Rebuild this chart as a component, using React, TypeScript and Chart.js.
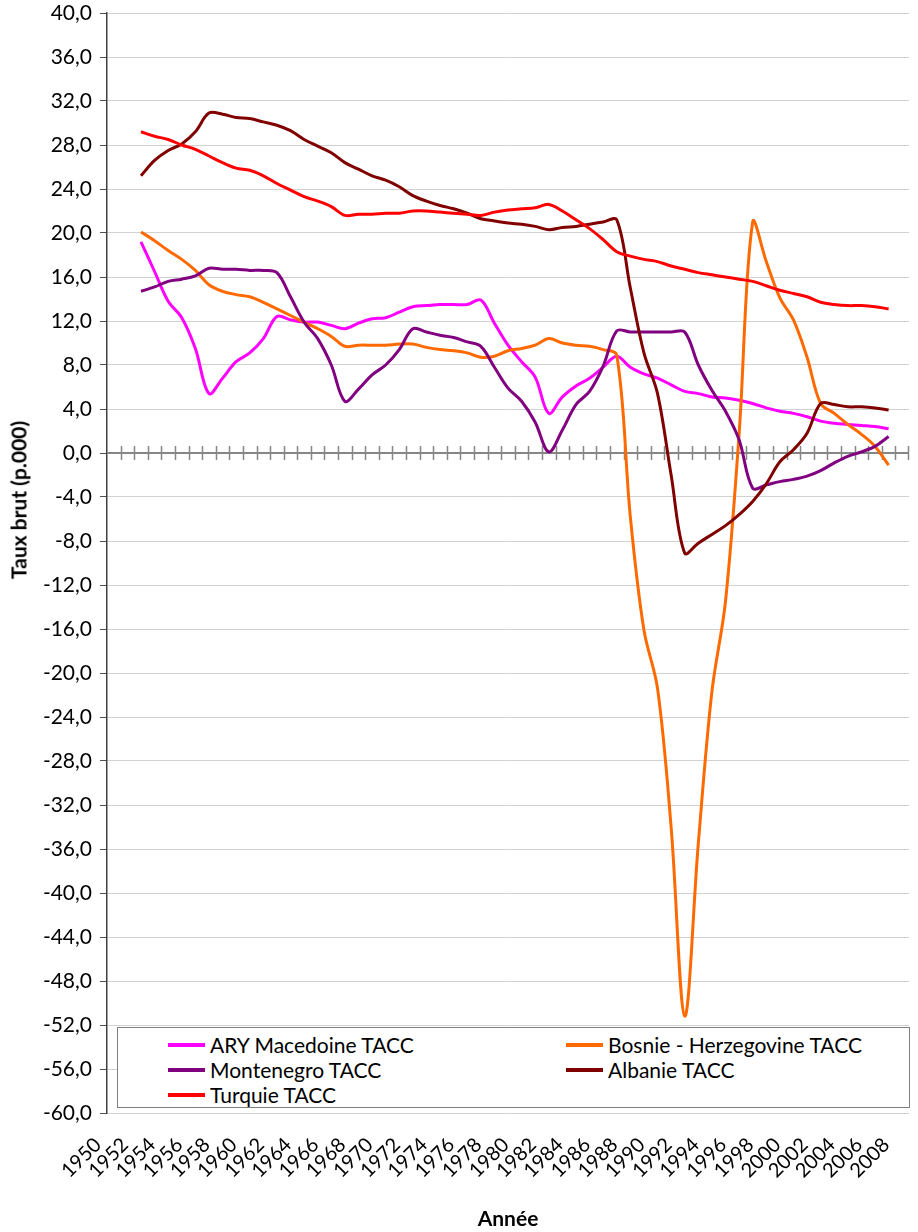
import React, { useEffect, useRef } from "react";
import { Chart, registerables } from "chart.js";

Chart.register(...registerables);

const years = [
  "1950", "1951", "1952", "1953", "1954", "1955", "1956", "1957", "1958", "1959",
  "1960", "1961", "1962", "1963", "1964", "1965", "1966", "1967", "1968", "1969",
  "1970", "1971", "1972", "1973", "1974", "1975", "1976", "1977", "1978", "1979",
  "1980", "1981", "1982", "1983", "1984", "1985", "1986", "1987", "1988", "1989",
  "1990", "1991", "1992", "1993", "1994", "1995", "1996", "1997", "1998", "1999",
  "2000", "2001", "2002", "2003", "2004", "2005", "2006", "2007", "2008",
];

const xTickLabels = years.filter((_, i) => i % 2 === 0);

const aryMacedoine = [
  null, null,
  19.2, 16.5, 13.8, 12.3, 9.5, 5.4, 6.8, 8.3, 9.1, 10.4,
  12.4, 12.1, 11.9, 11.9, 11.6, 11.3, 11.8, 12.2, 12.3, 12.8,
  13.3, 13.4, 13.5, 13.5, 13.5, 13.9, 11.8, 9.8, 8.3, 6.9,
  3.6, 5.1, 6.1, 6.8, 7.8, 8.8, 7.8, 7.2, 6.8, 6.2,
  5.6, 5.4, 5.1, 5.0, 4.8, 4.5, 4.1, 3.8, 3.6, 3.3,
  2.9, 2.7, 2.6, 2.5, 2.4, 2.2,
  null,
];

const bosnieHerzegovine = [
  null, null,
  20.1, 19.3, 18.4, 17.6, 16.6, 15.3, 14.7, 14.4, 14.2, 13.7,
  13.1, 12.5, 11.9, 11.3, 10.6, 9.7, 9.8, 9.8, 9.8, 9.9,
  9.9, 9.6, 9.4, 9.3, 9.1, 8.7, 8.8, 9.3, 9.5, 9.8,
  10.4, 10.0, 9.8, 9.7, 9.4, 8.9, -5.8, -16.1, -21.4, -34.0,
  -51.2, -35.5, -21.7, -13.5, 1.7, 21.0, 17.4, 14.1, 12.1, 8.7,
  4.5, 3.6, 2.6, 1.7, 0.6, -1.1,
  null,
];

const montenegro = [
  null, null,
  14.7, 15.1, 15.6, 15.8, 16.1, 16.8, 16.7, 16.7, 16.6, 16.6,
  16.4, 14.2, 11.9, 10.4, 8.0, 4.7, 5.8, 7.1, 8.0, 9.4,
  11.3, 11.0, 10.7, 10.5, 10.1, 9.7, 7.8, 5.9, 4.7, 2.8,
  0.1, 2.1, 4.4, 5.6, 7.9, 11.1, 11.0, 11.0, 11.0, 11.0,
  11.0, 8.0, 5.7, 3.8, 1.2, -3.2, -2.9, -2.6, -2.4, -2.1,
  -1.6, -0.9, -0.3, 0.1, 0.6, 1.5,
  null,
];

const albanie = [
  null, null,
  25.2, 26.6, 27.5, 28.1, 29.2, 30.9, 30.8, 30.5, 30.4, 30.1,
  29.8, 29.3, 28.5, 27.9, 27.3, 26.4, 25.8, 25.2, 24.8, 24.2,
  23.4, 22.9, 22.5, 22.2, 21.8, 21.3, 21.1, 20.9, 20.8, 20.6,
  20.3, 20.5, 20.6, 20.8, 21.0, 21.2, 15.0, 9.1, 5.4, -2.0,
  -9.1, -8.2, -7.4, -6.6, -5.6, -4.4, -2.8, -0.8, 0.3, 1.8,
  4.5, 4.4, 4.2, 4.2, 4.1, 3.9,
  null,
];

const turquie = [
  null, null,
  29.2, 28.8, 28.5, 28.0, 27.6, 27.0, 26.4, 25.9, 25.7, 25.2,
  24.5, 23.9, 23.3, 22.9, 22.4, 21.6, 21.7, 21.7, 21.8, 21.8,
  22.0, 22.0, 21.9, 21.8, 21.7, 21.6, 21.9, 22.1, 22.2, 22.3,
  22.6, 22.0, 21.2, 20.4, 19.4, 18.3, 17.9, 17.6, 17.4, 17.0,
  16.7, 16.4, 16.2, 16.0, 15.8, 15.6, 15.2, 14.8, 14.5, 14.2,
  13.7, 13.5, 13.4, 13.4, 13.3, 13.1,
  null,
];

const seriesNames = [
  "ARY Macedoine TACC",
  "Bosnie - Herzegovine TACC",
  "Montenegro TACC",
  "Albanie TACC",
  "Turquie TACC",
];
const seriesValues = [aryMacedoine, bosnieHerzegovine, montenegro, albanie, turquie];
const seriesColors = ["#FF00FF", "#FF6A00", "#800080", "#800000", "#FF0000"];

const yMin = -60;
const yMax = 40;
const yStep = 4;

const FONT = "Lato, 'Open Sans', sans-serif";

const zeroAxisPlugin = {
  id: "zeroAxis",
  beforeDatasetsDraw(chart: any) {
    const { ctx, chartArea, scales } = chart;
    const xs = scales.x;
    const ys = scales.y;
    const y0 = ys.getPixelForValue(0);
    ctx.save();
    ctx.strokeStyle = "#868686";
    ctx.lineWidth = 2;
    ctx.beginPath();
    ctx.moveTo(chartArea.left, y0);
    ctx.lineTo(chartArea.right, y0);
    ctx.stroke();
    ctx.lineWidth = 1.5;
    const n = years.length;
    for (let i = 1; i <= n; i++) {
      const px =
        i < n
          ? (xs.getPixelForValue(i - 1) + xs.getPixelForValue(i)) / 2
          : chartArea.right - 1;
      const rx = Math.round(px) + 0.5;
      ctx.beginPath();
      ctx.moveTo(rx, y0 - 7);
      ctx.lineTo(rx, y0 + 7);
      ctx.stroke();
    }
    ctx.restore();
  },
};

export default function App() {
  const canvasRef = useRef<HTMLCanvasElement | null>(null);

  useEffect(() => {
    const canvas = canvasRef.current;
    if (!canvas) return;
    const chart = new Chart(canvas, {
      type: "line",
      data: {
        labels: years,
        datasets: seriesNames.map((name, i) => ({
          label: name,
          data: seriesValues[i],
          borderColor: seriesColors[i],
          backgroundColor: seriesColors[i],
          borderWidth: 3,
          pointRadius: 0,
          pointHoverRadius: 0,
          tension: 0.35,
          fill: false,
          spanGaps: false,
          order: seriesNames.length - 1 - i,
        })),
      },
      options: {
        animation: false,
        responsive: false,
        devicePixelRatio: 1,
        events: [],
        layout: { padding: { left: 0, top: 13, right: 9, bottom: 0 } },
        plugins: {
          legend: { display: false },
          tooltip: { enabled: false },
          title: { display: false },
        },
        scales: {
          x: {
            type: "category",
            offset: true,
            grid: { display: false, drawTicks: false, offset: true },
            border: { display: false },
            ticks: {
              autoSkip: false,
              maxRotation: 45,
              minRotation: 45,
              padding: 20,
              labelOffset: -16,
              color: "#000",
              font: { family: FONT, size: 20 },
              callback: (_v: any, i: number) =>
                xTickLabels.includes(years[i]) ? years[i] : "",
            },
            title: {
              display: true,
              text: "Année",
              color: "#000",
              font: { family: FONT, size: 21, weight: "bold" },
              padding: { top: 0, bottom: 0 },
            },
            afterFit: (s: any) => {
              s.height = 119;
              s.paddingLeft = 0;
              s.paddingRight = 0;
            },
          },
          y: {
            min: yMin,
            max: yMax,
            ticks: {
              stepSize: yStep,
              color: "#000",
              padding: 8,
              font: { family: FONT, size: 21 },
              callback: (v: any) => Number(v).toFixed(1).replace(".", ","),
            },
            grid: {
              color: (c: any) =>
                c.tick && c.tick.value === 0 ? "rgba(0,0,0,0)" : "#d2d2d2",
              lineWidth: 1,
              tickColor: "#505050",
              tickLength: 7,
            },
            border: { color: "#404040", width: 1.5 },
            afterFit: (s: any) => {
              s.width = 107;
              s.paddingTop = 0;
              s.paddingBottom = 0;
            },
          },
        },
      },
      plugins: [zeroAxisPlugin],
    });
    return () => chart.destroy();
  }, []);

  const legendLeft = 117;
  const legendTop = 1027;

  return (
    <div
      style={{
        position: "absolute",
        left: 0,
        top: 0,
        width: 918,
        height: 1232,
        background: "#fff",
        overflow: "hidden",
        fontFamily: FONT,
      }}
    >
      <canvas
        ref={canvasRef}
        width={918}
        height={1232}
        style={{ position: "absolute", left: 0, top: 0, width: 918, height: 1232 }}
      />
      <div
        style={{
          position: "absolute",
          left: 18,
          top: 500,
          transform: "translate(-50%, -50%) rotate(-90deg)",
          whiteSpace: "nowrap",
          fontWeight: "bold",
          fontSize: 21,
          color: "#000",
        }}
      >
        Taux brut (p.000)
      </div>
      <div
        style={{
          position: "absolute",
          left: legendLeft,
          top: legendTop,
          width: 793,
          height: 81,
          boxSizing: "border-box",
          border: "1.5px solid #808080",
          background: "#fff",
        }}
      >
        {seriesNames.map((name, i) => {
          const col = i % 2;
          const row = Math.floor(i / 2);
          return (
            <div
              key={name}
              style={{
                position: "absolute",
                left: col === 0 ? 50 : 448,
                top: 4 + row * 25,
                height: 25,
                display: "flex",
                alignItems: "center",
                whiteSpace: "nowrap",
                fontSize: 21,
                color: "#000",
              }}
            >
              <span
                style={{
                  display: "inline-block",
                  width: 37,
                  height: 4,
                  background: seriesColors[i],
                  marginRight: 5,
                }}
              />
              {name}
            </div>
          );
        })}
      </div>
    </div>
  );
}
